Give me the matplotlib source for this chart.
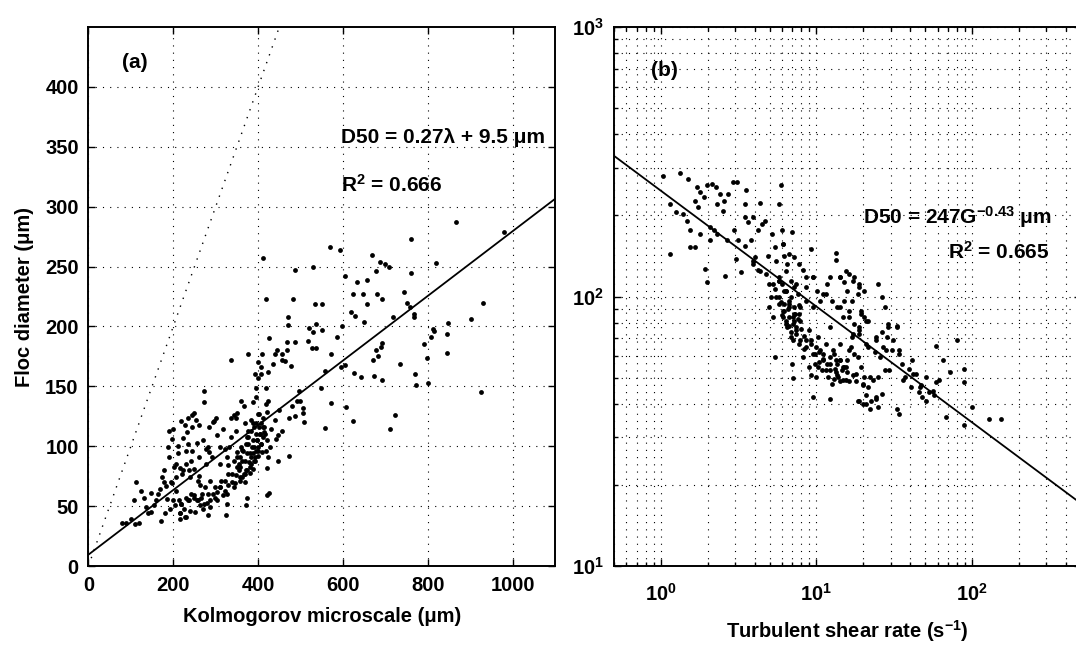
import matplotlib
matplotlib.use('Agg')
import matplotlib.pyplot as plt
import numpy as np

plt.rcParams['font.family'] = ['Liberation Sans', 'DejaVu Sans']
plt.rcParams['font.weight'] = 'bold'
plt.rcParams['font.size'] = 14.5
plt.rcParams['mathtext.fontset'] = 'custom'
plt.rcParams['mathtext.rm'] = 'Liberation Sans:bold'
plt.rcParams['mathtext.bf'] = 'Liberation Sans:bold'
plt.rcParams['mathtext.it'] = 'Liberation Sans:bold'

# (a) Kolmogorov microscale (um) vs floc diameter (um)
kol_um = [
    411, 418, 486, 482, 470, 470, 529, 534, 550, 537, 520, 569, 592, 604, 634, 657, 669, 687, 699, 709,
    678, 623, 648, 657, 681, 692, 618, 628, 649, 598, 719, 744, 752, 759, 768, 760, 760, 820, 867, 812,
    847, 903, 930, 980,
    425, 439, 434, 376, 335, 409, 400, 457, 468, 468, 488, 478, 517, 527, 530, 550, 537, 572, 557, 585,
    596, 604, 626, 642, 608, 624, 573, 557, 548, 496, 499, 505, 506, 509, 486, 474, 447, 446, 671, 682,
    678, 690, 693, 673, 693, 712, 723, 734, 769, 772, 768, 799, 800, 792, 814, 845, 845, 926, 808,
    191, 200, 196, 188, 219, 227, 235, 245, 249, 253, 261, 243, 232, 224, 212, 235, 256, 272, 273, 300,
    297, 285, 269, 245, 229, 211, 241, 229, 216, 202, 190, 178, 195, 184, 207, 221, 237, 249, 260, 276,
    285, 276, 310, 327, 302, 317, 335, 343, 351, 367, 359, 389, 395, 395, 400, 407, 392, 423, 419, 407,
    172, 180, 193, 205, 213, 217, 215, 229, 225, 237, 241, 249, 258, 262, 273, 282, 287, 298, 302, 310,
    318, 324, 327, 330, 339, 347, 354, 358, 366, 368, 375, 378, 383, 387, 391, 395, 399, 400, 407, 411,
    415, 411, 405, 397, 391, 387, 381, 375, 372, 358, 354, 351, 363, 371, 375, 383, 390, 395, 403, 411,
    420, 418, 423, 422, 425, 443, 431, 427, 419, 423, 421,
    79, 89, 100, 110, 120, 107, 111, 123, 130, 136, 140, 148, 155, 160, 165, 169, 173, 177, 185, 148,
    281, 292, 261, 294, 310, 322, 332, 330, 343, 349, 439, 449, 456, 474, 480, 492, 456, 444, 464,
    207, 219, 231, 239, 215, 227, 255, 267, 279, 294, 310, 322, 338, 350, 361, 373, 385, 397, 405, 381,
    393, 369, 357, 342, 326, 302, 286, 271, 251, 200, 196, 409, 401, 389, 377, 413, 421, 377, 365, 350,
    286, 263, 239, 223, 207,
    345, 361, 372, 384, 392, 400, 408, 380, 369, 357, 388, 396, 376, 360, 349, 369, 384, 400, 337, 329,
    313, 298, 282, 266, 250, 234, 218, 274, 258, 321, 408, 416,
]
floc_um = [
    257, 223, 247, 223, 208, 201, 250, 219, 219, 202, 199, 266, 264, 242, 237, 239, 260, 254, 252, 250,
    246, 227, 227, 219, 227, 223, 212, 209, 204, 200, 208, 229, 220, 216, 208, 245, 273, 253, 287, 198,
    203, 206, 220, 279,
    190, 177, 169, 177, 172, 177, 170, 172, 187, 180, 187, 167, 188, 182, 195, 197, 182, 177, 163, 191,
    166, 168, 161, 158, 133, 121, 136, 115, 149, 146, 138, 132, 128, 120, 125, 92, 88, 109, 172, 175,
    180, 183, 186, 159, 155, 114, 126, 169, 160, 151, 210, 174, 153, 185, 196, 194, 178, 145, 191,
    113, 114, 106, 99, 121, 118, 124, 126, 128, 122, 118, 116, 112, 107, 100, 102, 103, 137, 146, 124,
    121, 116, 105, 96, 96, 94, 88, 85, 82, 83, 91, 80, 70, 67, 74, 77, 80, 81, 75, 85,
    95, 98, 99, 91, 109, 114, 124, 126, 128, 134, 138, 137, 141, 149, 157, 160, 160, 162, 149, 166,
    38, 44, 48, 51, 55, 44, 39, 41, 48, 55, 60, 57, 55, 51, 52, 43, 55, 57, 62, 66,
    59, 43, 52, 68, 70, 76, 80, 74, 77, 70, 80, 87, 91, 94, 88, 96, 99, 92, 102, 108,
    112, 116, 110, 105, 99, 81, 78, 57, 51, 91, 85, 95, 97, 102, 108, 113, 116, 119, 116, 124,
    129, 135, 138, 59, 61, 106, 114, 99, 96, 91, 82,
    36, 36, 39, 35, 36, 55, 70, 63, 57, 49, 44, 45, 51, 55, 60, 64, 74, 70, 56, 61,
    99, 91, 91, 120, 85, 98, 99, 84, 88, 124, 122, 130, 113, 124, 134, 138, 177, 180, 171,
    63, 52, 57, 46, 44, 41, 55, 60, 53, 60, 66, 71, 77, 83, 88, 94, 99, 105, 110, 83,
    88, 77, 71, 66, 60, 55, 49, 48, 45, 55, 69, 95, 127, 119, 113, 116, 105, 102, 96, 91,
    71, 68, 74, 80, 85,
    69, 74, 80, 85, 91, 96, 102, 94, 88, 83, 105, 110, 108, 99, 113, 119, 122, 127, 108, 77,
    71, 66, 60, 57, 59, 55, 52, 66, 71, 63, 119, 110,
]

# (b) shear rate G (1/s) vs floc diameter, as log10 values
log_shear = [
    0.015, 0.121, 0.062, 0.062, 0.099, 0.143, 0.165, 0.187, 0.176, 0.235, 0.253, 0.220, 0.242, 0.275,
    0.297, 0.330, 0.352, 0.380, 0.407, 0.429, 0.462, 0.490, 0.549, 0.363, 0.402, 0.319, 0.341, 0.253,
    0.220, 0.187, 0.319, 0.363, 0.424, 0.473, 0.495, 0.538, 0.538, 0.560, 0.593, 0.637, 0.648, 0.670,
    0.758, 0.769, 0.626, 0.714, 0.780, 0.842, 0.582, 0.538, 0.484, 0.593, 0.604, 0.286, 0.297, 0.411,
    0.516, 0.626, 0.688, 0.736, 0.785, 0.791, 0.813, 0.857, 0.890, 0.912, 0.967, 0.934, 0.758, 0.780,
    0.802, 0.835, 0.857, 0.879, 0.736, 0.758, 0.824, 0.857, 0.791, 0.890, 0.824, 0.857, 0.978, 1.004,
    1.044, 1.066, 1.088, 1.123, 1.127, 1.154, 1.176, 1.209, 1.242, 1.275, 1.198, 1.231, 1.264, 1.308,
    1.396, 1.418, 1.176, 1.132, 1.099, 1.022, 0.978, 0.934, 1.286, 1.330, 1.440, 1.462, 1.516,
    0.758, 0.791, 0.824, 0.857, 0.890, 0.802, 0.846, 0.879, 0.835, 0.868, 0.901, 0.846, 0.890, 0.934,
    0.923, 0.967, 0.989, 1.022, 1.044, 1.011, 1.066, 1.088, 1.110, 1.132, 1.154, 1.176, 1.198, 1.154,
    1.099, 1.132, 1.110, 0.736, 0.842, 0.846, 0.967, 0.978, 1.088, 1.264, 1.297, 1.341, 1.396, 1.330,
    1.363, 1.396, 1.308, 1.286, 1.264, 1.220, 1.231, 1.275, 1.242, 1.308, 1.286, 1.330, 1.374, 1.407,
    1.429, 1.451, 1.462, 1.516, 1.527, 1.549, 1.593, 1.615, 1.637, 1.670, 1.681, 1.703, 1.769, 1.769,
    1.813, 1.857, 1.901, 1.945, 1.945, 2.000, 1.945, 1.835, 2.110, 2.187, 1.516, 1.527, 1.725, 1.758,
    0.780, 0.813,
    0.989, 1.033, 1.077, 1.121, 1.165, 1.209, 1.253, 1.297, 1.319, 1.352, 1.385, 1.418, 1.198, 1.242,
    1.385, 1.418, 1.484, 1.440, 1.571, 1.604, 1.659, 1.703,
    0.783, 0.826, 0.741, 0.805, 0.762, 0.794, 0.837, 0.773, 0.816, 0.859, 0.783, 0.891, 0.826, 0.870,
    0.923, 0.966, 0.998, 1.040, 1.084, 1.019, 1.148, 1.191, 1.127, 1.233, 1.169, 0.719, 0.709, 0.634,
    0.591, 0.934, 0.976, 1.062, 1.148, 1.191, 1.233, 1.276, 1.148, 1.212, 1.084, 1.276, 1.319,
    0.677, 0.762, 0.805, 0.741, 0.826, 0.783, 0.848, 0.805, 0.870, 0.837, 0.891, 0.934, 0.976, 1.019,
    1.040, 1.084, 1.127, 1.169, 1.062, 1.137, 1.191, 1.255, 1.298, 1.341, 1.276, 1.319, 1.384, 0.955,
    0.998, 0.912, 0.719, 0.698, 0.891, 0.955, 1.008, 1.062, 1.105, 1.148, 1.212, 1.233, 1.276, 1.319,
    1.169, 1.212, 1.384, 1.448, 1.490, 1.533, 1.469, 1.555, 1.619, 1.662, 1.747, 1.790, 0.698, 0.870,
]
log_floc = [
    2.447, 2.459, 2.158, 2.344, 2.313, 2.307, 2.282, 2.245, 2.437, 2.406, 2.387, 2.356, 2.332, 2.369,
    2.412, 2.418, 2.406, 2.381, 2.356, 2.381, 2.425, 2.425, 2.397, 2.344, 2.319, 2.257, 2.245, 2.233,
    2.183, 2.183, 2.208, 2.233, 2.208, 2.245, 2.208, 2.344, 2.295, 2.276, 2.295, 2.347, 2.270, 2.282,
    2.344, 2.412, 2.245, 2.233, 2.245, 2.239, 2.208, 2.189, 2.140, 2.121, 2.146, 2.103, 2.053, 2.078,
    2.090, 2.097, 2.152, 2.183, 2.196, 2.152, 2.121, 2.146, 2.121, 2.097, 2.177, 2.072, 2.072, 2.047,
    2.022, 2.059, 2.035, 2.010, 2.028, 1.998, 1.985, 1.960, 1.973, 1.936, 1.923, 1.911, 2.072, 2.022,
    2.010, 2.047, 2.074, 2.161, 2.134, 2.072, 2.053, 2.084, 2.072, 2.047, 2.022, 1.985, 2.010, 2.022,
    2.047, 1.998, 1.985, 1.960, 1.985, 1.985, 1.960, 1.985, 1.936, 1.911, 1.960, 1.899, 1.892,
    1.973, 1.948, 1.960, 1.936, 1.967, 1.911, 1.899, 1.917, 1.868, 1.862, 1.880, 1.837, 1.824, 1.837,
    1.806, 1.824, 1.787, 1.800, 1.769, 1.738, 1.750, 1.726, 1.695, 1.707, 1.763, 1.738, 1.719, 1.688,
    1.676, 1.750, 1.787, 1.775, 1.750, 1.698, 1.707, 1.627, 1.621, 1.614, 1.602, 1.583, 1.590, 1.664,
    1.689, 1.701, 1.701, 1.738, 1.775, 1.812, 1.849, 1.874, 1.899, 1.923, 1.948, 1.812, 1.794, 1.775,
    1.812, 1.849, 1.886, 1.886, 1.800, 1.750, 1.732, 1.763, 1.713, 1.670, 1.627, 1.701, 1.682, 1.818,
    1.763, 1.719, 1.837, 1.732, 1.682, 1.590, 1.522, 1.553, 1.544, 1.544, 1.583, 1.565, 1.645, 1.633,
    1.930, 1.886,
    1.750, 1.726, 1.701, 1.732, 1.726, 1.688, 1.688, 1.670, 1.633, 1.614, 1.621, 1.639, 1.763, 1.787,
    1.837, 1.868, 1.800, 1.726, 1.701, 1.664, 1.645, 1.614,
    2.195, 2.158, 2.133, 2.096, 2.059, 2.022, 1.997, 1.979, 1.954, 1.936, 1.923, 1.911, 1.892, 1.874,
    1.855, 1.837, 1.812, 1.788, 1.775, 1.756, 1.763, 1.738, 1.719, 1.707, 1.689, 2.047, 1.997, 2.096,
    2.133, 2.034, 2.072, 2.010, 2.072, 2.096, 2.059, 2.034, 1.960, 1.923, 1.886, 1.862, 1.825,
    2.084, 2.059, 2.022, 1.997, 1.973, 1.948, 1.923, 1.899, 1.886, 1.849, 1.837, 1.812, 1.788, 1.793,
    1.763, 1.750, 1.763, 1.738, 1.726, 1.701, 1.689, 1.713, 1.676, 1.701, 1.614, 1.602, 1.627, 1.738,
    1.701, 1.775, 1.923, 1.960, 1.960, 1.874, 1.849, 1.825, 1.800, 1.825, 1.800, 1.862, 1.886, 1.911,
    1.923, 1.948, 1.849, 1.800, 1.837, 1.788, 1.726, 1.689, 1.713, 1.664, 1.651, 1.689, 2.047, 2.047,
]

# fitted relations printed on the panels
fit_a = (0.27, 9.5)       # D50 = 0.27*lambda + 9.5
fit_b = (247.0, -0.43)    # D50 = 247*G^-0.43

fig = plt.figure(figsize=(10.76, 6.48), dpi=100)
ax1 = fig.add_axes([0.0822, 0.1265, 0.4336, 0.8318])
ax2 = fig.add_axes([0.5706, 0.1265, 0.4340, 0.8318])

grid_ls = (0, (1, 5.5))
fs = 15

# ---- panel (a)
ax1.plot([0, 450], [0, 450], color='black', linestyle=(0, (1, 5)), linewidth=1.0)
xl = np.array([0, 1100])
ax1.plot(xl, fit_a[0] * xl + fit_a[1], color='black', linewidth=1.3)
ax1.scatter(kol_um, floc_um, s=12, color='black', linewidths=0, zorder=3)
ax1.set_xlim(0, 1100)
ax1.set_ylim(0, 450)
ax1.set_xticks(range(0, 1001, 200))
ax1.set_yticks(range(0, 401, 50))
ax1.grid(True, color='black', linestyle=grid_ls, linewidth=0.8)
ax1.set_xlabel('Kolmogorov microscale (μm)', fontweight='bold', labelpad=9)
ax1.set_ylabel('Floc diameter (μm)', fontweight='bold', labelpad=8)
ax1.text(80, 420, '(a)', fontsize=fs, va='center')
ax1.text(595, 358, 'D50 = 0.27λ + 9.5 μm', fontsize=fs, va='center')
ax1.text(595, 318, 'R$^{2}$ = 0.666', fontsize=fs, va='center')

# ---- panel (b)
ax2.set_xscale('log')
ax2.set_yscale('log')
gl = np.array([0.5, 500])
ax2.plot(gl, fit_b[0] * gl ** fit_b[1], color='black', linewidth=1.3)
ax2.scatter(10 ** np.array(log_shear), 10 ** np.array(log_floc), s=12, color='black',
            linewidths=0, zorder=3)
ax2.set_xlim(0.5, 500)
ax2.set_ylim(10, 1000)
ax2.set_xticks([1, 10, 100])
ax2.set_xticklabels([r'$\mathbf{10^{0}}$', r'$\mathbf{10^{1}}$', r'$\mathbf{10^{2}}$'])
ax2.set_yticks([10, 100, 1000])
ax2.set_yticklabels([r'$\mathbf{10^{1}}$', r'$\mathbf{10^{2}}$', r'$\mathbf{10^{3}}$'])
ax2.grid(True, which='both', color='black', linestyle=grid_ls, linewidth=0.8)
ax2.set_xlabel('Turbulent shear rate (s$^{-1}$)', fontweight='bold', labelpad=10)
ax2.text(0.86, 690, '(b)', fontsize=fs, va='center')
ax2.text(20, 197, 'D50 = 247G$^{-0.43}$ μm', fontsize=fs, va='center')
ax2.text(70, 146, 'R$^{2}$ = 0.665', fontsize=fs, va='center')

for ax in (ax1, ax2):
    ax.tick_params(which='both', direction='in', top=True, right=True, width=1.0)
    ax.tick_params(which='major', length=5, labelsize=14.5, pad=7)
    ax.tick_params(which='minor', length=3)
    for sp in ax.spines.values():
        sp.set_linewidth(1.4)
    ax.set_axisbelow(True)
ax2.tick_params(axis='x', which='major', pad=12)
for lab in ax1.get_xticklabels() + ax1.get_yticklabels():
    lab.set_fontweight('bold')

fig.savefig('out.png', dpi=100)
